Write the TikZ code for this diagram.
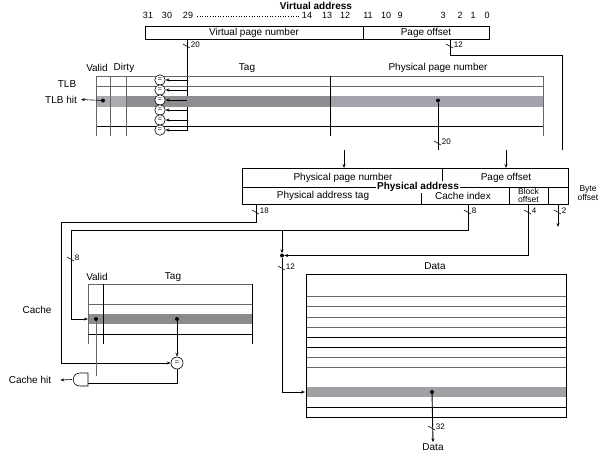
\documentclass[tikz,border=0pt]{standalone}
\usepackage{fontspec}
\setmainfont{Liberation Sans}
\usepackage{tikz}
\usetikzlibrary{arrows.meta,positioning,calc}
\definecolor{vshade}{RGB}{172,172,176}
\definecolor{tshade}{RGB}{142,142,146}
\definecolor{pshade}{RGB}{162,163,172}
\definecolor{cshade}{RGB}{140,140,142}
\definecolor{dshade}{RGB}{160,161,165}
% bus width tick with its label
\newcommand{\busw}[2]{\draw[line width=0.6pt]($(#1)+(-4,-2)$)--++(7,4) node[tick,anchor=south west]{#2};}

\begin{document}
\begin{tikzpicture}[x=1pt,y=-1pt,>={Stealth[length=4pt,width=3pt]},
  lbl/.style={font=\fontsize{10}{10}\selectfont,inner sep=1pt},
  hd/.style={font=\fontsize{10}{10}\selectfont\bfseries,inner sep=1pt},
  num/.style={font=\fontsize{9}{9}\selectfont,inner sep=0.5pt},
  tick/.style={font=\fontsize{8}{8}\selectfont,inner sep=0.5pt},
  two/.style={lbl,align=center,font=\fontsize{8.5}{8.5}\selectfont},
  cmp/.style={draw,circle,fill=white,line width=0.6pt,minimum size=10.5pt,inner sep=0pt,font=\fontsize{7}{7}\selectfont},
  jdot/.style={circle,fill,inner sep=0pt,minimum size=4pt},
  wire/.style={line width=0.9pt},
  grid/.style={line width=0.6pt,black!60}]
  \useasboundingbox (0,0) rectangle (607,453);

  % virtual address
  \node[hd](va) at (316,5.5){Virtual address};
  \foreach \x/\b in {148/31,167/30,188/29,307/14,327/13,345/12,368/11,386/10,400/9,443/3,460/2,473/1,487/0}
    \node[num](bit\b) at (\x,15.5){\b};
  \draw[dotted,line width=0.6pt](197,16.5)--(300,16.5);
  \draw[wire](145,26) rectangle (489,39) (363,26)--(363,39);
  \node[lbl](vpn) at (254,32.5){Virtual page number};
  \node[lbl](vpo) at (426,32.5){Page offset};
  \coordinate(vpnout) at (187,39);\coordinate(vpnend) at (187,131);
  \draw[wire](vpnout)--(vpnend);\busw{187,46}{20}
  \coordinate(poout) at (450,39);\coordinate(poend) at (562,150);
  \draw[wire](poout)--++(0,16)-|(poend);\busw{450,46}{12}

  % TLB
  \fill[vshade](96,96) rectangle (126,107);
  \fill[tshade](126,96) rectangle (330,107);
  \fill[pshade](330,96) rectangle (543,107);
  \draw[grid](96,76)--(543,76) (96,86)--(543,86);
  \draw[wire](96,126)--(543,126);
  \foreach \x in {96,110,126,543}\draw[grid](\x,76)--(\x,136);
  \draw[wire](330,76)--(330,136);
  \node[lbl](tlbv) at (97,68){Valid};
  \node[lbl](tlbd) at (124,68){Dirty};
  \node[lbl](tlbtag) at (247,68){Tag};
  \node[lbl](tlbppn) at (438,68){Physical page number};
  \node[lbl](tlb) at (67,84){TLB};
  \node[lbl](tlbhit) at (61,99.5){TLB hit};
  \foreach \i/\y in {1/80,2/90,3/100,4/110,5/120,6/130}{
    \node[cmp](tc\i) at (160,\y){=};
    \coordinate(tb\i) at (187,\y);
    \draw[->,line width=0.6pt](tb\i)--(tc\i);}
  \node[jdot](tv) at (103,100.5){};
  \draw[->,line width=0.6pt](tv)--([xshift=3pt]tlbhit.east);
  \node[jdot](tp) at (438,100.5){};
  \coordinate(ppnend) at (438,150);
  \draw[wire](tp)--(ppnend);\busw{438,143}{20}

  % physical address
  \coordinate(ppnin) at (344,150);\coordinate(poin) at (506,150);
  \draw[wire](242,168) rectangle (568,204) (442,168)--(442,187) (242,187)--(568,187)
    (421,187)--(421,204) (509,187)--(509,204) (548,187)--(548,204);
  \node[lbl](pappn) at (343,177.5){Physical page number};
  \node[lbl](papo) at (506,177.5){Page offset};
  \node[hd,fill=white](pa) at (418,187){Physical address};
  \node[lbl](patag) at (323,196){Physical address tag};
  \node[lbl](paidx) at (463,196){Cache index};
  \node[two](pablk) at (528.5,195.5){Block\\offset};
  \node[two](pabyte) at (588,193){Byte\\offset};
  \draw[->,wire](ppnin)--(ppnin|-168,168);
  \draw[->,wire](poin)--(poin|-168,168);
  \coordinate(tagout) at (256,204);\coordinate(idxout) at (468,204);
  \coordinate(blkout) at (528,204);\coordinate(byteout) at (558,204);
  \coordinate(byteend) at (558,227);
  \draw[->,wire](byteout)--(byteend);
  \busw{256,212}{18}\busw{468,212}{8}\busw{528,212}{4}\busw{558,212}{2}

  % cache
  \fill[cshade](88,314) rectangle (252,324);
  \draw[grid](88,284)--(252,284) (88,304)--(252,304) (88,284)--(88,344);
  \draw[wire](88,334)--(252,334) (103,284)--(103,344) (252,284)--(252,344);
  \node[lbl](cv) at (97,277){Valid};
  \node[lbl](ctag) at (173,277){Tag};
  \node[lbl](cache) at (37,310){Cache};
  \node[jdot](cvd) at (96,319){};
  \node[jdot](ctd) at (177,319){};
  \node[cmp,minimum size=12pt](cc) at (177,363){=};
  \coordinate(crow) at (88,319);
  \draw[->,wire](ctd)--(cc);
  \draw[->,wire](tagout)--++(0,18)-|(61,363)--(cc);
  \draw[->,wire](idxout)--++(0,26)-|(71,319)--(crow);\busw{71,259}{8}
  \coordinate(gin) at (96,376);\coordinate(gin2) at (88,383);
  \draw[grid](cvd)--(gin);
  \draw[wire](cc)|-(gin2);
  \draw[line width=0.6pt,fill=white](88,373)--(80,373)..controls(71,373)and(71,386)..(80,386)--(88,386)--cycle;
  \coordinate(gout) at (72,379.5);
  \node[lbl](chit) at (30,380){Cache hit};
  \draw[->,line width=0.6pt](gout)--([xshift=8pt]chit.east);

  % data
  \node[jdot](mx) at (282,255.5){};
  \coordinate(br) at (282,230);\coordinate(drow) at (305,392);
  \draw[->,wire](br)--(mx);
  \draw[->,wire](blkout)|-(mx);
  \draw[->,wire](mx)|-(drow);\busw{282,268}{12}
  \fill[dshade](306,387) rectangle (566,397);
  \foreach \y in {296,306,317,327,357,367}\draw[grid](306,\y)--(566,\y);
  \foreach \y in {337,347,407}\draw[wire](306,\y)--(566,\y);
  \draw[line width=0.8pt](306,274) rectangle (566,417);
  \node[lbl](dhead) at (435,266){Data};
  \node[jdot](dd) at (432,392){};
  \node[lbl](dout) at (433,447){Data};
  \draw[->,wire](dd)--(dout.north);\busw{432,428}{32}
\end{tikzpicture}
\end{document}
